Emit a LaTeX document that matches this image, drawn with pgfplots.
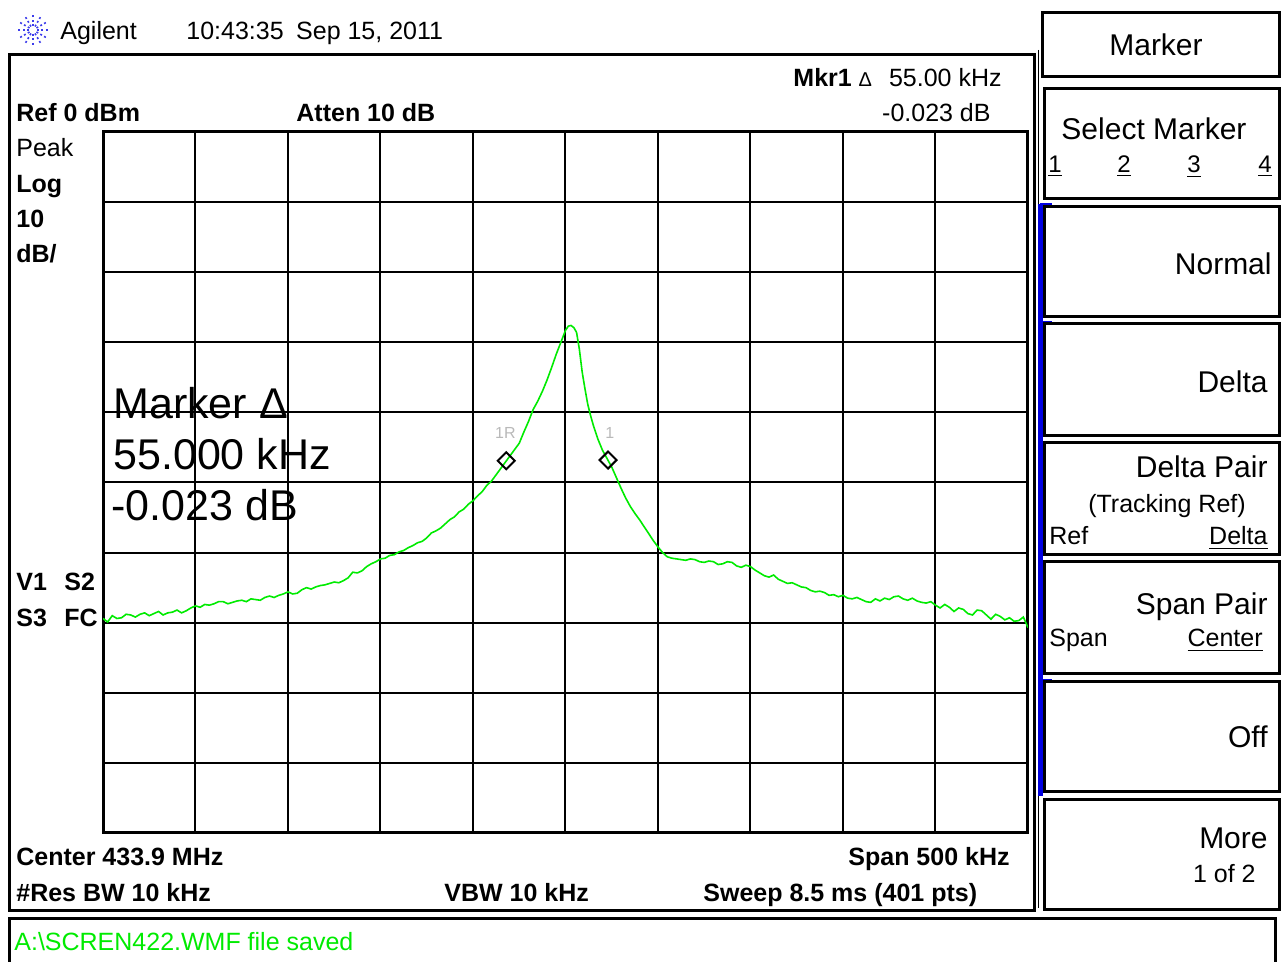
\documentclass[border=0pt]{standalone}
\usepackage{pgfplots}
\pgfplotsset{compat=1.18}
\usepackage{fontspec}
\setmainfont{Liberation Sans}
\definecolor{trace}{RGB}{0,235,0}
\definecolor{agblue}{RGB}{60,60,235}
\definecolor{kblue}{RGB}{0,0,225}
\newcommand{\fa}{\fontsize{12.5}{15}\selectfont}
\newcommand{\fs}{\fontsize{12}{14}\selectfont}
\newcommand{\fb}{\fontsize{15}{18}\selectfont}
\newcommand{\fc}{\fontsize{21.5}{26}\selectfont}
\begin{document}
\begin{tikzpicture}
\begin{scope}[x=0.5pt,y=-0.5pt,shift={(0,479pt)}]
\path[use as bounding box] (0,0) rectangle (1282,958);
\fill[white] (0,0) rectangle (1282,958);
\end{scope}
\begin{axis}[
  at={(51.5pt,62.5pt)}, anchor=south west,
  width=462.5pt, height=350.5pt, scale only axis,
  xmin=-250, xmax=250, ymin=-100, ymax=0,
  xtick={-250,-200,...,250}, ytick={-100,-90,...,0},
  xticklabels={}, yticklabels={}, major tick length=0pt,
  grid=major, grid style={black, line width=1pt},
  axis line style={line width=1.5pt},
]
\addplot[trace, line width=0.8pt] coordinates {
(-250,-69.4) (-247.5,-69.9) (-245,-69.0) (-242.5,-69.4) (-240,-69.3) (-237.5,-68.8)
(-235,-68.9) (-232.5,-69.2) (-230,-68.8) (-227.5,-68.6) (-225,-69.0) (-222.5,-68.7)
(-220,-68.4) (-217.5,-68.9) (-215,-68.6) (-212.5,-68.5) (-210,-68.2) (-207.5,-68.6)
(-205,-68.3) (-202.5,-67.9) (-200,-67.6) (-197.5,-67.8) (-195,-67.4) (-192.5,-67.5)
(-190,-67.3) (-187.5,-67.0) (-185,-67.0) (-182.5,-67.3) (-180,-67.1) (-177.5,-66.9)
(-175,-66.8) (-172.5,-67.0) (-170,-66.6) (-167.5,-66.7) (-165,-66.8) (-162.5,-66.4)
(-160,-66.2) (-157.5,-66.4) (-155,-66.1) (-152.5,-65.9) (-150,-65.6) (-147.5,-65.9)
(-145,-65.8) (-142.5,-65.3) (-140,-65.0) (-137.5,-65.2) (-135,-64.9) (-132.5,-64.7)
(-130,-64.6) (-127.5,-64.4) (-125,-64.2) (-122.5,-64.3) (-120,-64.0) (-117.5,-63.6)
(-115,-62.8) (-112.5,-62.9) (-110,-62.6) (-107.5,-62.0) (-105,-61.6) (-102.5,-61.3)
(-100,-60.9) (-97.5,-60.8) (-95,-60.4) (-92.5,-60.3) (-90,-59.9) (-87.5,-59.7)
(-85,-59.3) (-82.5,-59.0) (-80,-58.6) (-77.5,-58.4) (-75,-57.9) (-72.5,-57.2)
(-70,-56.9) (-67.5,-56.5) (-65,-55.9) (-62.5,-55.3) (-60,-54.9) (-57.5,-54.2)
(-55,-53.8) (-52.5,-53.1) (-50,-52.6) (-47.5,-51.9) (-45,-51.3) (-42.5,-50.4)
(-40,-49.8) (-37.5,-48.9) (-35,-48.0) (-32.5,-47.1) (-30,-46.2) (-27.5,-45.3)
(-25,-44.4) (-22.5,-42.8) (-20,-41.3) (-17.5,-39.6) (-15,-38.4) (-12.5,-37.0)
(-10,-35.4) (-7.5,-33.6) (-5,-31.7) (-2.5,-30.0) (0,-28.3) (1.5,-27.7) (3,-27.6)
(4.5,-27.9) (6,-28.6) (7.5,-31.0) (9,-34.2) (10.5,-36.6) (12,-38.8) (13.5,-40.4)
(15,-41.8) (17.5,-43.8) (20,-45.4) (22.5,-46.6) (25,-47.8) (27.5,-49.3) (30,-50.8)
(32.5,-52.2) (35,-53.4) (37.5,-54.4) (40,-55.3) (42.5,-56.3) (45,-57.3) (47.5,-58.3)
(50,-59.2) (52.5,-60.0) (55,-60.6) (57.5,-60.8) (60,-60.9) (62.5,-61.0) (65,-61.1)
(67.5,-60.9) (70,-61.0) (72.5,-61.3) (75,-61.4) (77.5,-61.2) (80,-61.3) (82.5,-61.7)
(85,-61.6) (87.5,-61.3) (90,-61.4) (92.5,-61.9) (95,-62.1) (97.5,-61.8) (100,-62.0)
(102.5,-62.5) (105,-62.9) (107.5,-63.3) (110,-63.5) (112.5,-63.2) (115,-63.8)
(117.5,-64.1) (120,-64.4) (122.5,-64.3) (125,-64.6) (127.5,-64.9) (130,-65.0)
(132.5,-65.4) (135,-65.6) (137.5,-65.5) (140,-65.7) (142.5,-66.1) (145,-66.0)
(147.5,-66.3) (150,-66.1) (152.5,-66.5) (155,-66.6) (157.5,-66.4) (160,-66.7)
(162.5,-67.0) (165,-67.1) (167.5,-66.6) (170,-66.9) (172.5,-66.5) (175,-66.7)
(177.5,-66.3) (180,-66.2) (182.5,-66.6) (185,-66.8) (187.5,-66.5) (190,-66.9)
(192.5,-67.1) (195,-67.2) (197.5,-67.0) (200,-67.5) (202.5,-67.9) (205,-67.4)
(207.5,-67.8) (210,-68.4) (212.5,-67.9) (215,-68.1) (217.5,-68.7) (220,-68.9)
(222.5,-68.2) (225,-68.3) (227.5,-68.9) (230,-69.5) (232.5,-68.8) (235,-69.1)
(237.5,-69.6) (240,-69.3) (242.5,-69.8) (245,-69.7) (247.5,-69.2) (250,-70.7)
};
\addplot[only marks, mark=square, mark size=3pt, mark options={black, fill=white, line width=1pt, rotate=45}] coordinates {(-32,-46.9) (23,-46.8)};
\node[font=\fontsize{8}{9}\selectfont, text=gray!55] at (axis cs:-32.5,-42.9) {1R};
\node[font=\fontsize{8}{9}\selectfont, text=gray!55] at (axis cs:24,-42.9) {1};
\end{axis}
\begin{scope}[x=0.5pt,y=-0.5pt,shift={(0,479pt)}, every node/.style={inner sep=0pt, anchor=base west}]
% logo
\foreach \a in {0,30,...,330} \draw[agblue, line width=0.8pt, dash pattern=on 1pt off 1.2pt] (33,30) ++(\a:4) -- ++(\a:11);
\node[font=\fa] at (60,40) {Agilent};
\node[font=\fa] at (186,40) {10:43:35\hspace{0.5em}Sep 15, 2011};
% main frame
\draw[line width=1.5pt] (9,55) rectangle (1034,911);
\draw[line width=0.5pt] (1038,50) -- (1038,908);
\draw[line width=1.5pt] (1275,962) -- (1275,919) -- (9,919) -- (9,962);
% header texts
\node[font=\fa\bfseries] at (16,122) {Ref 0 dBm};
\node[font=\fa\bfseries] at (296,122) {Atten 10 dB};
\node[font=\fa, anchor=base east] at (1002,87) {\textbf{Mkr1} {\fontsize{10}{12}\selectfont Δ}\hspace{0.4em} 55.00 kHz};
\node[font=\fa, anchor=base east] at (991,122) {-0.023 dB};
\node[font=\fa] at (16,157) {Peak};
\node[font=\fa\bfseries] at (16,193) {Log};
\node[font=\fa\bfseries] at (16,228) {10};
\node[font=\fa\bfseries] at (16,263) {dB/};
\node[font=\fa\bfseries] at (16,591) {V1\hspace{0.7em}S2};
\node[font=\fa\bfseries] at (16,627) {S3\hspace{0.7em}FC};
% big marker readout
\node[font=\fc] at (113,419) {Marker Δ};
\node[font=\fc] at (113,470) {55.000 kHz};
\node[font=\fc] at (111,521) {-0.023 dB};
% bottom texts
\node[font=\fa\bfseries] at (16,866) {Center 433.9 MHz};
\node[font=\fa\bfseries, anchor=base east] at (1010,866) {Span 500 kHz};
\node[font=\fa\bfseries] at (16,902) {\#Res BW 10 kHz};
\node[font=\fa\bfseries] at (444,902) {VBW 10 kHz};
\node[font=\fa\bfseries] at (703,902) {Sweep 8.5 ms (401 pts)};
\node[font=\fa, text=trace] at (14,951) {A:\textbackslash SCREN422.WMF file saved};
% softkeys
\draw[kblue, line width=2.5pt] (1040,204) -- (1040,796);
\foreach \yy in {205,323,443,562,681} \draw[kblue, line width=1.5pt] (1040,\yy) -- (1052,\yy);
\foreach \ya/\yb in {89/199,207/317,324/436,443/555,562/674,682/792,800/910}
  \draw[line width=1.5pt] (1044,\ya) rectangle (1279,\yb);
\draw[line width=1.5pt] (1042,13) rectangle (1279,77);
\node[font=\fb, anchor=base] at (1156,56) {Marker};
\node[font=\fb, anchor=base] at (1154,140) {Select Marker};
\node[font=\fs] at (1048,173) {\underline{1}};
\node[font=\fs] at (1117,173) {\underline{2}};
\node[font=\fs] at (1187,173) {\underline{3}};
\node[font=\fs, anchor=base east] at (1272,173) {\underline{4}};
\node[font=\fb, anchor=base east] at (1272,275) {Normal};
\node[font=\fb, anchor=base east] at (1268,393) {Delta};
\node[font=\fb, anchor=base east] at (1268,478) {Delta Pair};
\node[font=\fa, anchor=base] at (1167,513) {(Tracking Ref)};
\node[font=\fa] at (1049,545) {Ref};
\node[font=\fa, anchor=base east] at (1268,545) {\underline{Delta}};
\node[font=\fb, anchor=base east] at (1268,615) {Span Pair};
\node[font=\fa] at (1049,647) {Span};
\node[font=\fa, anchor=base east] at (1263,647) {\underline{Center}};
\node[font=\fb, anchor=base east] at (1268,748) {Off};
\node[font=\fb, anchor=base east] at (1268,849) {More};
\node[font=\fa, anchor=base east] at (1256,883) {1 of 2};
\end{scope}
\end{tikzpicture}
\end{document}
